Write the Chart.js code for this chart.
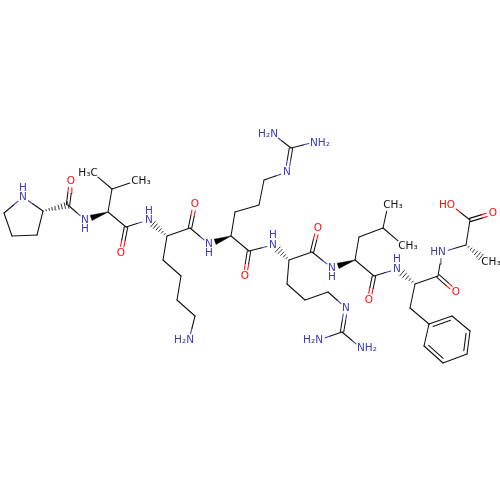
<!DOCTYPE html>
<html><head><meta charset="utf-8">
<style>html,body{margin:0;padding:0;background:#fff}canvas{display:block}</style>
<script src="https://cdn.jsdelivr.net/npm/chart.js@4"></script>
</head><body><canvas id="c" width="500" height="500"></canvas>
<script>
const atomNames=["n1","c1","c2","c3","a1","k1","o1","n2","a2","b2","m1","m2","k2","o2","n3","a3","k3","o3","n4","l1","l2","l3","l4","n5","a4","r1","r2","r3","n6","g1","n7","n8","k4","o4","n9","a5","k5","o5","n10","s1","s2","s3","n11","g2","n12","n13","a6","e1","e2","m3","m4","k6","o6","n14","a7","k7","o7","n15","a8","m5","k8","o8","o9","b7","p1","p2","p3","p4","p5","p6"];
const atomX=[23,4,12,37,43,68,71,85,108,112,93,136,126,121,148,167,190,195,209,163,181,177,195,189,231,235,259,264,287,291,273,315,249,245,273,289,312,318,332,287,305,328,346,342,319,361,355,359,383,388,403,374,369,397,415,438,456,442,466,486,470,493,451,410,429,452,470,467,443,424];
const atomY=[197,213,236,235,211,205,181,220,212,189,173,181,227,253,220,236,228,204,244,260,276,300,316,340,236,212,205,180,172,148,134,142,251,276,245,260,252,228,268,284,300,292,308,332,340,348,260,237,228,205,245,276,300,269,284,276,292,252,245,261,220,213,205,308,324,316,331,354,363,346];
const heteroColor={n:"#3c3cb0",o:"#ff0d0d"};
const labelledAtoms=["n1","o1","n2","m1","m2","o2","n3","o3","n4","n5","n6","n7","n8","o4","n9","o5","n10","n11","n12","n13","m3","m4","o6","n14","o7","n15","m5","o8","o9"];
const singleBonds=["n1-c1","c1-c2","c2-c3","c3-a1","a1-n1","k1-n2","a2-b2","b2-m1","b2-m2","a2-k2","k2-n3","a3-k3","k3-n4","a3-l1","l1-l2","l2-l3","l3-l4","l4-n5","a4-r1","r1-r2","r2-r3","r3-n6","g1-n7","g1-n8","a4-k4","k4-n9","a5-k5","k5-n10","a5-s1","s1-s2","s2-s3","s3-n11","g2-n12","g2-n13","a6-e1","e1-e2","e2-m3","e2-m4","a6-k6","k6-n14","a7-k7","k7-n15","n15-a8","a8-k8","k8-o9","a7-b7","b7-p1","p2-p3","p4-p5","p6-p1"];
const doubleBonds=["k1-o1","k2-o2","k3-o3","k4-o4","k5-o5","k6-o6","k7-o7","k8-o8","n6-g1","n11-g2"];
const aromaticBonds=["p1-p2","p3-p4","p5-p6"];
const solidWedges=["a2-n2","a4-n4","a6-n10"];
const hashedWedges=["a1-k1","a3-n3","a5-n9","a7-n14","a8-m5"];
const labelText=["N","H","O","N","H","H₃C","CH₃","O","N","H","O","N","H","H₂N","N","H₂N","NH₂","O","N","H","O","N","H","N","H₂N","NH₂","CH₃","CH₃","O","N","H","O","HN","CH₃","HO","O"];
const labelX=[23,23,71,85,85,88,141,121,149,149,195,209,209,184,287,268,320,245,273,273,318,332,332,346,313,367,393,408,369,397,397,456,438,491,447,493];
const labelY=[197,188,181,220,229,173,181,253,220,211,204,244,253,340,172,134,143,276,245,235,228,268,277,308,340,348,205,246,300,269,259,292,252,262,205,213];

const P=Object.fromEntries(atomNames.map((n,i)=>[n,{x:atomX[i],y:atomY[i]}]));
const colorOf=n=>labelledAtoms.includes(n)&&heteroColor[n[0]]||"#111";
const trim=(a,b,na)=>{if(!labelledAtoms.includes(na))return a;const d=Math.hypot(b.x-a.x,b.y-a.y);const r=6.5/d;return{x:a.x+(b.x-a.x)*r,y:a.y+(b.y-a.y)*r}};
const ds=[];
const seg=(a,b,col,w=1.05)=>ds.push({data:[a,b],showLine:true,borderColor:col,borderWidth:w,pointRadius:0,clip:false,borderCapStyle:"round"});
function drawBond(na,nb,ox=0,oy=0,fa=0,fb=1){
  let a=P[na],b=P[nb];
  const s=trim(a,b,na),e=trim(b,a,nb);
  const dx=b.x-a.x,dy=b.y-a.y;
  const A={x:a.x+dx*fa,y:a.y+dy*fa},B={x:a.x+dx*fb,y:a.y+dy*fb};
  const st=fa>0?A:s,en=fb<1?B:e;
  const m={x:(a.x+b.x)/2,y:(a.y+b.y)/2};
  const off=p=>({x:p.x+ox,y:p.y+oy});
  const ca=colorOf(na),cb=colorOf(nb);
  if(ca===cb)seg(off(st),off(en),ca);
  else{seg(off(st),off(m),ca);seg(off(m),off(en),cb);}
}
singleBonds.forEach(b=>{const[x,y]=b.split("-");drawBond(x,y)});
doubleBonds.forEach(b=>{const[x,y]=b.split("-");const a=P[x],c=P[y],d=Math.hypot(c.x-a.x,c.y-a.y);const nx=-(c.y-a.y)/d*1.7,ny=(c.x-a.x)/d*1.7;drawBond(x,y,nx,ny);drawBond(x,y,-nx,-ny)});
const ringCx=atomX.slice(-6).reduce((s,v)=>s+v)/6,ringCy=atomY.slice(-6).reduce((s,v)=>s+v)/6;
aromaticBonds.forEach(b=>{const[x,y]=b.split("-");drawBond(x,y);const a=P[x],c=P[y];const mx=(a.x+c.x)/2,my=(a.y+c.y)/2,d=Math.hypot(ringCx-mx,ringCy-my);drawBond(x,y,(ringCx-mx)/d*3.6,(ringCy-my)/d*3.6,.12,.88)});
solidWedges.forEach(b=>{const[x,y]=b.split("-");const a=P[x],e=trim(P[y],a,y),d=Math.hypot(e.x-a.x,e.y-a.y);const nx=-(e.y-a.y)/d*2.8,ny=(e.x-a.x)/d*2.8;
  ds.push({data:[a,{x:e.x+nx,y:e.y+ny},{x:e.x-nx,y:e.y-ny},a],showLine:true,fill:"shape",backgroundColor:"#000",borderColor:"#000",borderWidth:.5,pointRadius:0,clip:false})});
hashedWedges.forEach(b=>{const[x,y]=b.split("-");const a=P[x],e=trim(P[y],a,y),d=Math.hypot(e.x-a.x,e.y-a.y),ux=(e.x-a.x)/d,uy=(e.y-a.y)/d;
  const n=Math.round(d/3.1);for(let i=1;i<=n;i++){const t=i/n*d,h=t/d*3.2+.3;const cx=a.x+ux*t,cy=a.y+uy*t;seg({x:cx-uy*h,y:cy+ux*h},{x:cx+uy*h,y:cy-ux*h},"#222",.9)}});
const atomText={id:"atomText",afterDatasetsDraw(ch){const c=ch.ctx,sx=ch.scales.x,sy=ch.scales.y;c.save();c.font='10.5px "DejaVu Sans"';c.textAlign="center";c.textBaseline="middle";
  labelText.forEach((t,i)=>{const isO=t.includes("O"),isC=t.includes("C");c.fillStyle=isC?"#111":isO?heteroColor.o:heteroColor.n;c.fillText(t,sx.getPixelForValue(labelX[i]),sy.getPixelForValue(labelY[i]))});c.restore()}};
new Chart(document.getElementById("c"),{type:"scatter",data:{datasets:ds},plugins:[atomText],options:{responsive:false,devicePixelRatio:1,animation:false,events:[],layout:{padding:0},
 plugins:{legend:{display:false},title:{display:false},tooltip:{enabled:false}},
 scales:{x:{type:"linear",display:false,min:0,max:500},y:{type:"linear",display:false,min:0,max:500,reverse:true}}}});
</script></body></html>
